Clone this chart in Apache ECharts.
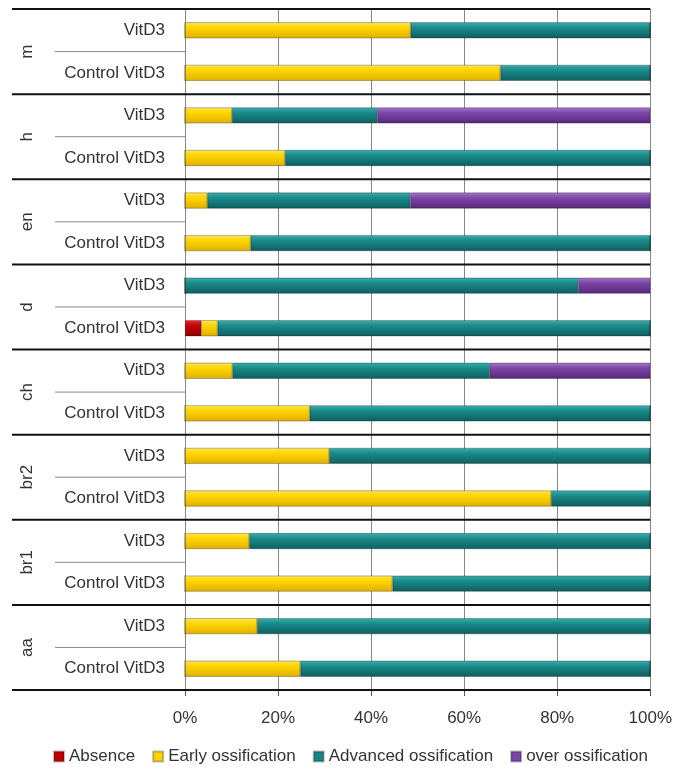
<!DOCTYPE html>
<html>
<head>
<meta charset="utf-8">
<script src="https://cdn.jsdelivr.net/npm/echarts@6/dist/echarts.min.js"></script>
<style>html,body{margin:0;padding:0;background:#fff;}#c{width:675px;height:773px;}</style>
</head>
<body>
<div id="c"></div>
<script>
// Groups top to bottom; each has two rows: VitD3, Control VitD3
const groups = ['m', 'h', 'en', 'd', 'ch', 'br2', 'br1', 'aa'];
const rowLabels = ['VitD3', 'Control VitD3', 'VitD3', 'Control VitD3', 'VitD3', 'Control VitD3', 'VitD3', 'Control VitD3',
                   'VitD3', 'Control VitD3', 'VitD3', 'Control VitD3', 'VitD3', 'Control VitD3', 'VitD3', 'Control VitD3'];
const seriesNames = ['Absence', 'Early ossification', 'Advanced ossification', 'over ossification'];
const absence  = [0, 0,    0, 0,    0, 0,    0, 3.5,  0, 0,    0, 0,    0, 0,    0, 0];
const early    = [48.5, 67.8, 10.1, 21.5, 4.8, 14.1, 0, 3.5, 10.2, 26.8, 31, 78.7, 13.8, 44.6, 15.5, 24.8];
const advanced = [51.5, 32.2, 31.2, 78.5, 43.6, 85.9, 84.5, 93, 55.3, 73.2, 69, 21.3, 86.2, 55.4, 84.5, 75.2];
const over     = [0, 0, 58.7, 0, 51.6, 0, 15.5, 0, 34.5, 0, 0, 0, 0, 0, 0, 0];
const xTicks = [0, 20, 40, 60, 80, 100];

const FONT = 'Liberation Sans';
function grad(top, mid, bot) {
  return new echarts.graphic.LinearGradient(0, 0, 0, 1, [
    {offset: 0, color: top}, {offset: 0.35, color: mid}, {offset: 1, color: bot}
  ]);
}
const styles = [
  {color: grad('#e83030', '#c80000', '#8a0000'), legend: '#c00000'},
  {color: grad('#ffe850', '#ffd500', '#e0b000'), legend: '#ffd200'},
  {color: grad('#3bb0b0', '#1a8a8a', '#0d5e5e'), legend: '#178585'},
  {color: grad('#a47bcc', '#7d45a8', '#55287a'), legend: '#7d45a8'}
];
const values = [absence, early, advanced, over];

const chart = echarts.init(document.getElementById('c'));
const option = {
  animation: false,
  grid: {left: 185, right: 24, top: 9, bottom: 83, containLabel: false},
  legend: {
    data: seriesNames.map((n, i) => ({name: n, itemStyle: {color: styles[i].legend}})),
    bottom: 3, left: 48,
    icon: 'rect', itemWidth: 10, itemHeight: 10, itemGap: 17,
    textStyle: {fontFamily: FONT, fontSize: 17, color: '#333'}
  },
  xAxis: {
    type: 'value', min: 0, max: 100, interval: 20,
    axisLabel: {formatter: '{value}%', fontFamily: FONT, fontSize: 17, color: '#333', margin: 20},
    axisLine: {show: false},
    axisTick: {show: true, length: 6, lineStyle: {color: '#555'}},
    splitLine: {show: true, lineStyle: {color: '#888', width: 1}}
  },
  yAxis: {
    type: 'category', inverse: true,
    data: rowLabels.map((l, i) => String(i)),
    axisLabel: {formatter: (v) => rowLabels[+v], fontFamily: FONT, fontSize: 17, color: '#333', margin: 20},
    axisLine: {show: true, lineStyle: {color: '#888', width: 1}},
    axisTick: {show: false},
    splitLine: {show: false}
  },
  series: seriesNames.map((n, i) => ({
    name: n, type: 'bar', stack: 'total', barWidth: 16,
    data: values[i],
    itemStyle: {
      color: styles[i].color,
      borderColor: 'rgba(0,0,0,0.25)', borderWidth: 0.6,
      shadowColor: 'rgba(0,0,0,0.22)', shadowBlur: 3, shadowOffsetY: 3
    }
  }))
};
chart.setOption(option);

// Decorations derived from the category axis scale
const rowY = rowLabels.map((l, i) => chart.convertToPixel({yAxisIndex: 0}, String(i)));
const band = rowY[1] - rowY[0];
const x0 = chart.convertToPixel({xAxisIndex: 0}, 0);
const x100 = chart.convertToPixel({xAxisIndex: 0}, 100);
const gfx = [];
for (let g = 0; g <= groups.length; g++) {
  const y = g < groups.length ? rowY[2 * g] - band / 2 : rowY[2 * g - 1] + band / 2;
  gfx.push({type: 'line', shape: {x1: 12, y1: y, x2: x100, y2: y}, style: {stroke: '#111', lineWidth: 2}, z: 10});
}
groups.forEach((name, g) => {
  const ym = (rowY[2 * g] + rowY[2 * g + 1]) / 2;
  gfx.push({type: 'line', shape: {x1: 55, y1: ym, x2: x0, y2: ym}, style: {stroke: '#888', lineWidth: 1}, z: 10});
  gfx.push({
    type: 'text', x: 27, y: ym, rotation: Math.PI / 2,
    style: {text: name, font: '17px "' + FONT + '"', fill: '#333', align: 'center', verticalAlign: 'middle'}, z: 10
  });
});
chart.setOption({graphic: gfx});
</script>
</body>
</html>
